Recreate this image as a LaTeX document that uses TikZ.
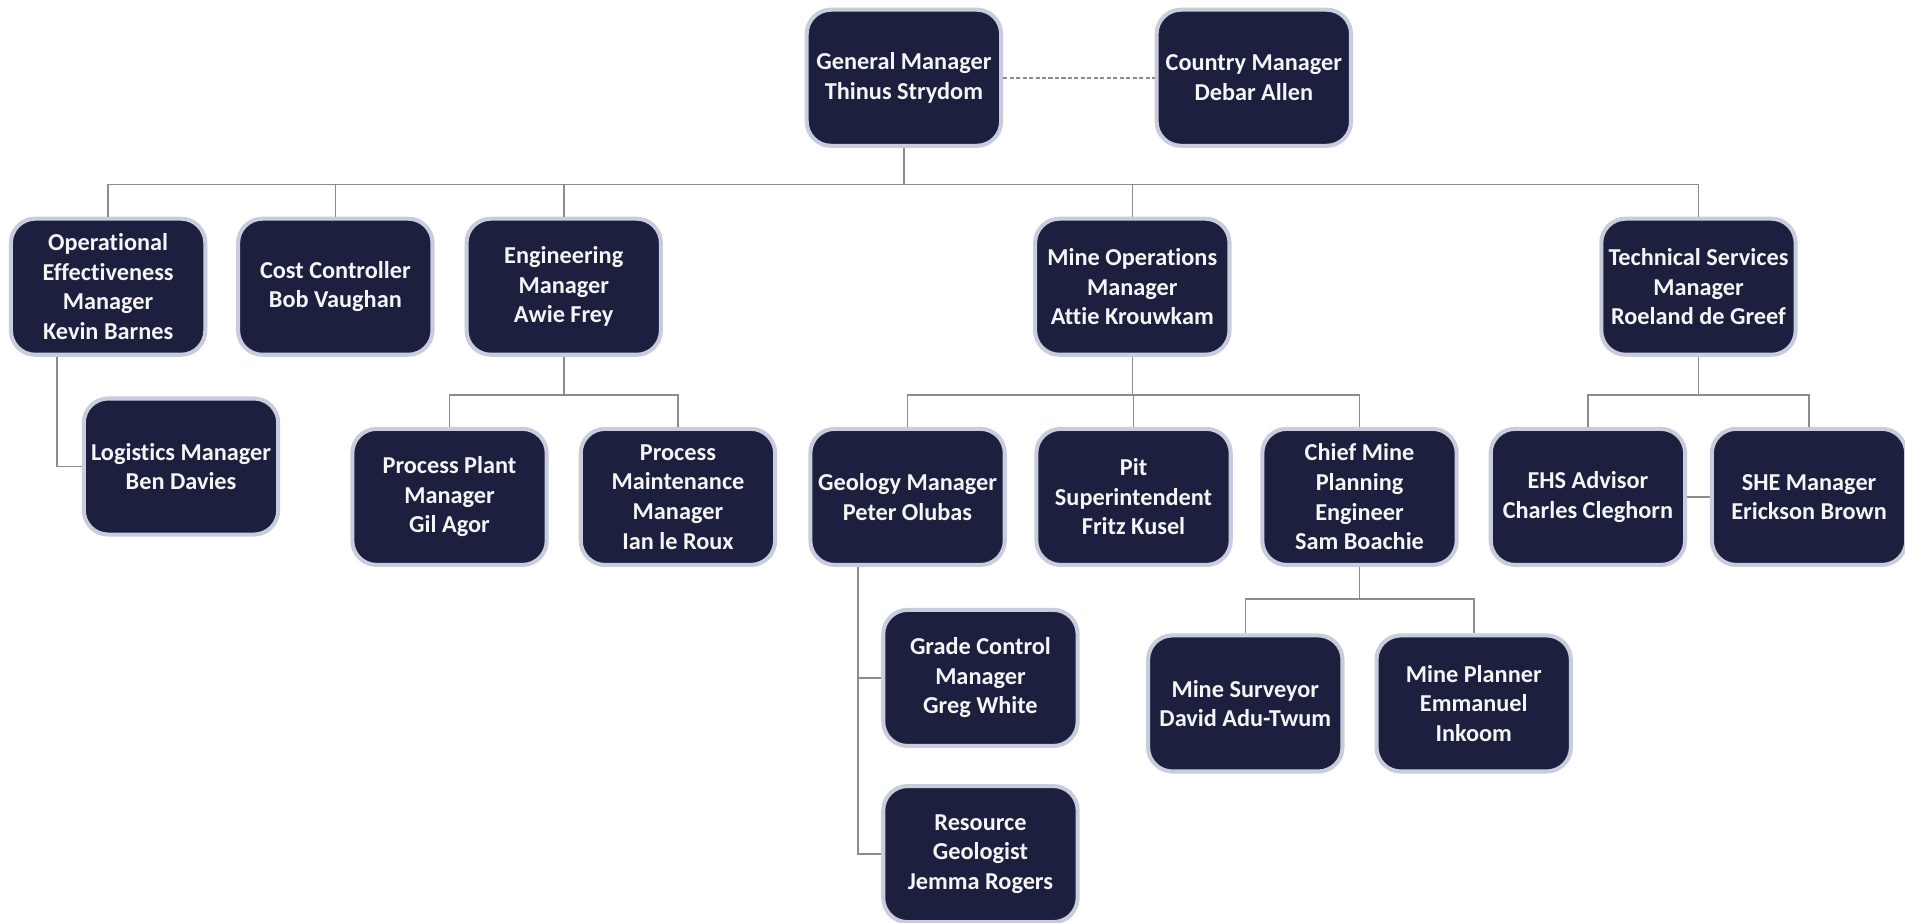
\documentclass[tikz,border=0pt]{standalone}
\usepackage{fontspec}
\setmainfont{Carlito}[BoldFont={Carlito Bold}, Ligatures={NoCommon}]
\usetikzlibrary{calc}
\definecolor{boxfill}{RGB}{28,32,62}
\definecolor{boxedge}{RGB}{200,204,220}
\definecolor{linegray}{RGB}{140,140,140}
\definecolor{txt}{RGB}{245,245,245}
\tikzset{
  person/.style={draw=boxedge, line width=2pt, fill=boxfill, rounded corners=12pt,
    minimum width=96pt, minimum height=67.2pt, inner sep=0pt, align=center,
    text=txt, font=\fontsize{12pt}{14.6pt}\selectfont\bfseries},
  conn/.style={draw=linegray, line width=0.8pt},
  dashconn/.style={draw=linegray, line width=0.8pt, dash pattern=on 2pt off 1.2pt}
}
\begin{document}
\begin{tikzpicture}[x=0.6pt,y=-0.6pt]
\useasboundingbox (0,0) rectangle (1568,759);
\fill[white] (0,0) rectangle (1568,759);
% row 0
\node[person] (GM) at (744,64) {General Manager\\Thinus Strydom};
\node[person] (CM) at (1032,64) {Country Manager\\Debar Allen};
% row 1
\node[person] (OE) at (89,236) {Operational\\Effectiveness\\Manager\\Kevin Barnes};
\node[person] (CC) at (276,236) {Cost Controller\\Bob Vaughan};
\node[person] (ENG) at (464,236) {Engineering\\Manager\\Awie Frey};
\node[person] (MO) at (932,236) {Mine Operations\\Manager\\Attie Krouwkam};
\node[person] (TS) at (1398,236) {Technical Services\\Manager\\Roeland de Greef};
% row 2
\node[person] (LOG) at (149,384) {Logistics Manager\\Ben Davies};
\node[person] (PPM) at (370,409) {Process Plant\\Manager\\Gil Agor};
\node[person] (PMM) at (558,409) {Process\\Maintenance\\Manager\\Ian le Roux};
\node[person] (GEO) at (747,409) {Geology Manager\\Peter Olubas};
\node[person] (PIT) at (933,409) {Pit\\Superintendent\\Fritz Kusel};
\node[person] (CMPE) at (1119,409) {Chief Mine\\Planning\\Engineer\\Sam Boachie};
\node[person] (EHS) at (1307,409) {EHS Advisor\\Charles Cleghorn};
\node[person] (SHE) at (1489,409) {SHE Manager\\Erickson Brown};
% row 3
\node[person] (GC) at (807,558) {Grade Control\\Manager\\Greg White};
\node[person] (RG) at (807,703) {Resource\\Geologist\\Jemma Rogers};
\node[person] (MS) at (1025,579) {Mine Surveyor\\David Adu-Twum};
\node[person] (MP) at (1213,579) {Mine Planner\\Emmanuel\\Inkoom};
% buses
\coordinate (bus0) at (0,152);
\coordinate (bus1) at (0,325);
\coordinate (bus2) at (0,493);
\coordinate (geoline) at ($(GEO.south)+(-41,0)$);
% connectors
\draw[dashconn] (GM.east) -- (CM.west);
\draw[conn] (GM.south) -- (GM.south |- bus0);
\draw[conn] (OE.north) |- (bus0 -| TS.north) -- (TS.north);
\draw[conn] (CC.north) -- (CC.north |- bus0);
\draw[conn] (ENG.north) -- (ENG.north |- bus0);
\draw[conn] (MO.north) -- (MO.north |- bus0);
\draw[conn] ($(OE.south)+(-42,0)$) |- (LOG.west);
\draw[conn] (ENG.south) -- (ENG.south |- bus1);
\draw[conn] (PPM.north) |- (bus1 -| PMM.north) -- (PMM.north);
\draw[conn] (MO.south) -- (MO.south |- bus1);
\draw[conn] (GEO.north) |- (bus1 -| CMPE.north) -- (CMPE.north);
\draw[conn] (PIT.north) -- (PIT.north |- bus1);
\draw[conn] (TS.south) -- (TS.south |- bus1);
\draw[conn] (EHS.north) |- (bus1 -| SHE.north) -- (SHE.north);
\draw[conn] (EHS.east) -- (SHE.west);
\draw[conn] (geoline) |- (GC.west);
\draw[conn] (geoline) |- (RG.west);
\draw[conn] (CMPE.south) -- (CMPE.south |- bus2);
\draw[conn] (MS.north) |- (bus2 -| MP.north) -- (MP.north);
\end{tikzpicture}
\end{document}
